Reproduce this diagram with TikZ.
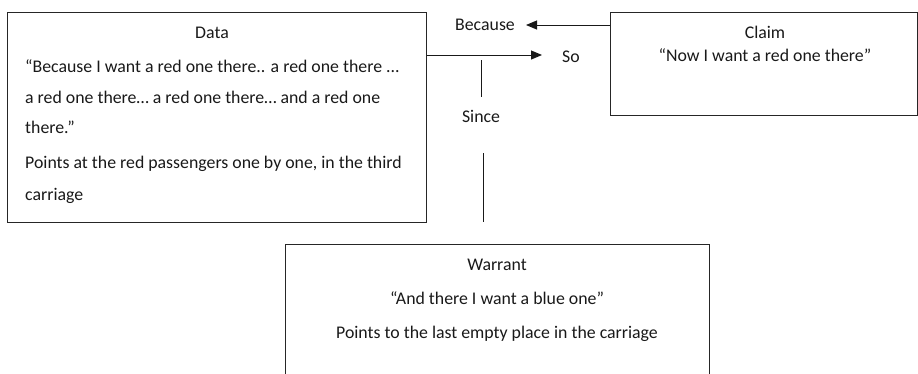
\documentclass[tikz,border=0pt]{standalone}
\usepackage{fontspec}
\setmainfont{Carlito}
\usetikzlibrary{arrows.meta}
\begin{document}
\begin{tikzpicture}[x=1pt,y=-1pt,
  box/.style={draw=black!85,line width=1pt,minimum width=#1,inner sep=0pt},
  txt/.style={font=\fontsize{17.8}{21}\selectfont,text=black!90,inner sep=0pt},
  arr/.style={draw=black!90,line width=1pt,-{Triangle[length=11pt,width=9pt]}},
  rule/.style={draw=black!90,line width=1pt}]
\useasboundingbox (0,0) rectangle (918,373);
\clip (0,0) rectangle (918,373);

% boxes
\node[box=419pt,minimum height=210pt] (data) at (216.5,117) {};
\node[box=307pt,minimum height=103pt] (claim) at (763.5,63.5) {};
\node[box=424pt,minimum height=140pt] (warrant) at (497,314) {};

% Data text (base lines)
\node[txt,anchor=base] (dtitle) at (212,38) {Data};
\node[txt,anchor=base west] (d1) at (25,72) {“Because I want a red one there.. a red one there ...};
\node[txt,anchor=base west] (d2) at (25,103) {a red one there… a red one there… and a red one};
\node[txt,anchor=base west] (d3) at (25,133) {there.”};
\node[txt,anchor=base west] (d4) at (25,168) {Points at the red passengers one by one, in the third};
\node[txt,anchor=base west] (d5) at (25,200) {carriage};

% Claim text
\node[txt,anchor=base] (ctitle) at (765,38) {Claim};
\node[txt,anchor=base] (c1) at (765,61) {“Now I want a red one there”};

% Warrant text
\node[txt,anchor=base] (wtitle) at (497,270) {Warrant};
\node[txt,anchor=base] (w1) at (497,304) {“And there I want a blue one”};
\node[txt,anchor=base] (w2) at (497,338) {Points to the last empty place in the carriage};

% connector labels
\node[txt,anchor=base] (because) at (485,30) {Because};
\node[txt,anchor=base west] (so) at (562,62) {So};
\node[txt,anchor=base] (since) at (481,122) {Since};

% connectors
\coordinate (because tip) at (526,25);
\coordinate (sotip) at (542,55);
\draw[arr] (claim.west |- because tip) -- (because tip);
\draw[arr] (data.east |- sotip) -- (sotip);
\coordinate (s1) at (481,60);
\coordinate (s2) at (481,97);
\coordinate (s3) at (483,153);
\coordinate (s4) at (483,222);
\draw[rule] (s1) -- (s2);
\draw[rule] (s3) -- (s4);
\end{tikzpicture}
\end{document}
